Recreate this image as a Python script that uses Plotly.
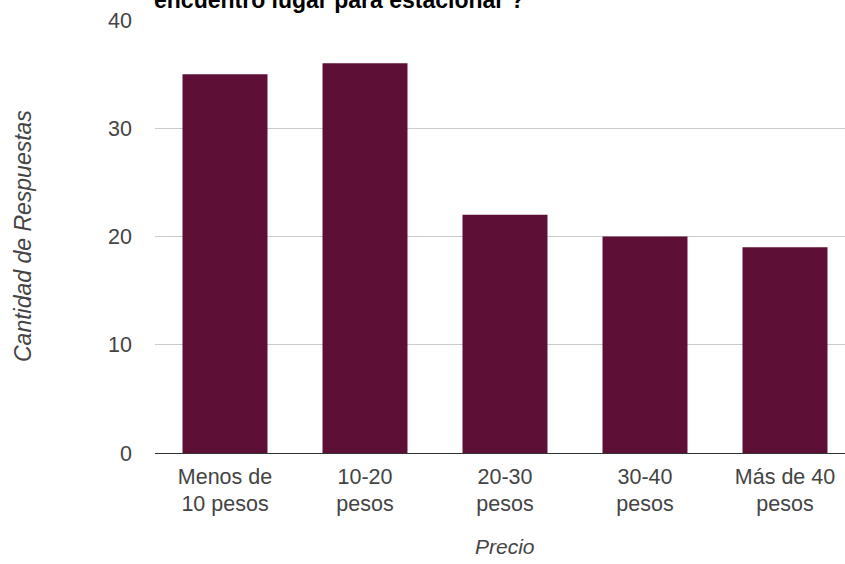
import plotly.graph_objects as go

# Survey answers: how much people would pay for parking
categorias = ["Menos de<br>10 pesos", "10-20<br>pesos", "20-30<br>pesos", "30-40<br>pesos", "Más de 40<br>pesos"]
respuestas = [35, 36, 22, 20, 19]
y_ticks = [0, 10, 20, 30, 40]

titulo = "encuentro lugar para estacionar ?"
titulo_x = "Precio"
titulo_y = "Cantidad de Respuestas"

FONT = "Arial, Liberation Sans, sans-serif"
BAR_COLOR = "#5d0f35"
TEXT_GRAY = "#444444"

x_pos = list(range(len(categorias)))

fig = go.Figure(
    go.Bar(
        x=x_pos,
        y=respuestas,
        marker=dict(color=BAR_COLOR, line=dict(width=0)),
        hoverinfo="skip",
    )
)

fig.update_layout(
    width=845,
    height=564,
    margin=dict(l=155, r=0, t=20, b=111),
    paper_bgcolor="white",
    plot_bgcolor="white",
    bargap=0.393,
    showlegend=False,
    font=dict(family=FONT, color=TEXT_GRAY, size=21),
)

fig.update_xaxes(
    range=[-0.5, 4.4286],
    tickmode="array",
    tickvals=x_pos,
    ticktext=categorias,
    tickfont=dict(size=21.5, color=TEXT_GRAY, family=FONT),
    showgrid=False,
    showline=False,
    zeroline=False,
    ticks="",
    ticklabelstandoff=8,
)

fig.update_yaxes(
    range=[0, 40],
    tickmode="array",
    tickvals=y_ticks,
    tickfont=dict(size=21.5, color=TEXT_GRAY, family=FONT),
    showgrid=True,
    gridcolor="#cccccc",
    gridwidth=1,
    zeroline=True,
    zerolinecolor="#333333",
    zerolinewidth=1,
    showline=False,
    ticks="",
    ticklabelstandoff=22,
)

# Chart title (only its last line fits in the frame)
fig.add_annotation(
    text=f"<b>{titulo}</b>",
    xref="paper", yref="paper",
    x=-0.004, y=1.012,
    xanchor="left", yanchor="bottom",
    showarrow=False,
    font=dict(size=23, color="#000000", family=FONT),
)

# Axis titles
fig.add_annotation(
    text=f"<i>{titulo_x}</i>",
    xref="x", yref="paper",
    x=2, y=-0.185,
    xanchor="center", yanchor="top",
    showarrow=False,
    font=dict(size=21, color=TEXT_GRAY, family=FONT),
)
fig.add_annotation(
    text=f"<i>{titulo_y}</i>",
    xref="paper", yref="paper",
    x=-0.192, y=0.5,
    xanchor="center", yanchor="middle",
    textangle=-90,
    showarrow=False,
    font=dict(size=23, color=TEXT_GRAY, family=FONT),
)

fig.write_html("out.html")
